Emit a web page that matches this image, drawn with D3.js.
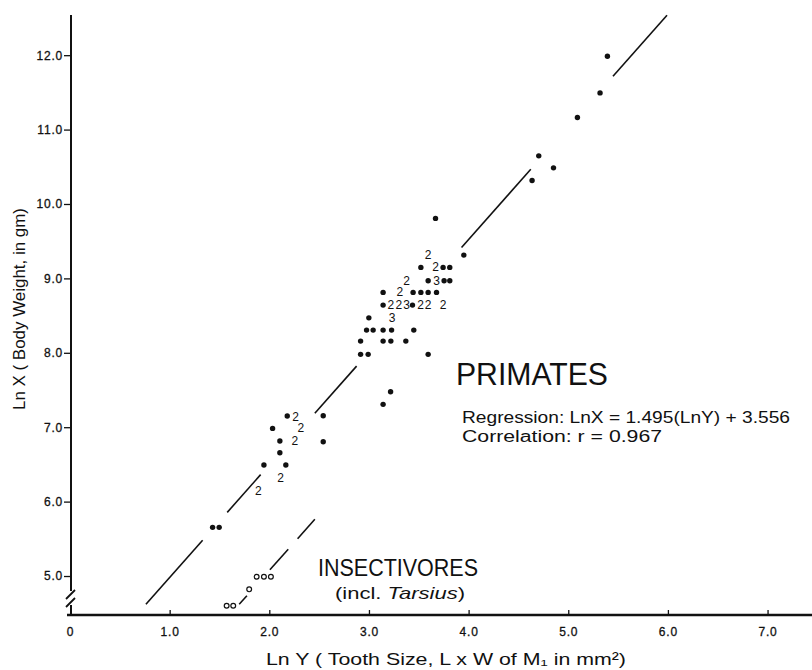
<!DOCTYPE html>
<html><head><meta charset="utf-8">
<script src="https://cdn.jsdelivr.net/npm/d3@7"></script>
<style>
body{margin:0;background:#fff}
svg{display:block}
text{font-family:"Liberation Sans",Arial,Helvetica,sans-serif;fill:#111}
</style>
</head><body>
<svg id="chart" width="812" height="670"></svg>
<script>
// ---- data (Ln Y = tooth size, Ln X = body weight) ----
const primateDots = [
  [1.431,5.654],[1.497,5.654],[1.946,6.491],[2.166,6.491],[2.106,6.657],[2.106,6.814],
  [2.033,6.984],[2.180,7.150],[2.541,7.154],[2.541,6.804],[3.142,7.307],[3.217,7.476],
  [3.952,9.313],[3.521,9.148],[3.744,9.148],[3.811,9.148],
  [3.594,8.968],[3.754,8.968],[3.811,8.968],
  [3.142,8.812],[3.443,8.812],[3.521,8.812],[3.594,8.812],[3.678,8.812],
  [3.142,8.641],[3.437,8.641],[2.999,8.470],
  [2.976,8.305],[3.042,8.305],[3.142,8.305],[3.227,8.305],[3.450,8.305],
  [2.916,8.157],[3.142,8.157],[3.220,8.157],[3.370,8.157],
  [2.916,7.979],[2.992,7.979],[3.594,7.979],[3.668,9.806],
  [4.637,10.316],[4.704,10.647],[4.852,10.486],[5.092,11.163],[5.319,11.493],[5.393,11.986]
];
// multiple specimens at one point, shown by a numeral: [count, lnY, lnX]
const primateCounts = [
  ["2",1.889,6.146],["2",2.113,6.321],["2",2.257,6.814],["2",2.317,6.984],["2",2.264,7.132],
  ["2",3.594,9.313],["2",3.668,9.148],["2",3.377,8.968],["3",3.678,8.968],["2",3.310,8.812],
  ["2",3.220,8.641],["2",3.300,8.641],["3",3.377,8.641],["2",3.518,8.641],["2",3.594,8.641],
  ["2",3.744,8.641],["3",3.233,8.470]
];
const insectivoreDots = [
  [1.572,4.601],[1.638,4.601],[1.798,4.821],[1.873,4.991],[1.946,4.991],[2.016,4.991]
];
// fitted lines (end points) and their visible dash pieces (Ln Y ranges)
const primateLineEnds = [[0.762,4.620],[5.991,12.537]];
const primateLinePieces = [[0.762,1.331],[1.578,1.913],[2.457,2.876],[3.929,4.624],[5.449,5.991]];
const insectLineEnds = [[1.698,4.620],[2.457,5.762]];
const insectLinePieces = [[1.698,1.775],[2.006,2.190],[2.284,2.457]];

const xTickValues = [0,1,2,3,4,5,6,7];
const xTickLabels = ["0","1.0","2.0","3.0","4.0","5.0","6.0","7.0"];
const yTickValues = [5,6,7,8,9,10,11,12];
const yTickLabels = ["5.0","6.0","7.0","8.0","9.0","10.0","11.0","12.0"];

// ---- drawing ----
const svg = d3.select("#chart");
const x = d3.scaleLinear().domain([0,7.446]).range([70,812]);
const y = d3.scaleLinear().domain([4.476,12.54]).range([615,15]);

// x axis
const xAxis = d3.axisBottom(x).tickValues(xTickValues)
  .tickFormat((d,i)=>xTickLabels[i]).tickSizeInner(-5).tickSizeOuter(0).tickPadding(12);
const gx = svg.append("g").attr("transform",`translate(0,${y(4.476)})`).call(xAxis);
gx.select(".domain").remove();
gx.selectAll(".tick line").attr("stroke","#111").attr("stroke-width",1.3);
gx.selectAll(".tick").filter(d=>d===0).select("line").remove();
gx.selectAll("text").attr("font-size",12).attr("letter-spacing",0.8)
  .style("font-family","'Liberation Sans',Arial,sans-serif").attr("fill","#111")
  .attr("stroke","#111").attr("stroke-width",0.3);
svg.append("line").attr("x1",x(0)-3).attr("x2",812).attr("y1",y(4.476)).attr("y2",y(4.476))
  .attr("stroke","#111").attr("stroke-width",2.4);

// y axis
const yAxis = d3.axisLeft(y).tickValues(yTickValues)
  .tickFormat((d,i)=>yTickLabels[i]).tickSizeInner(7).tickSizeOuter(0).tickPadding(1);
const gy = svg.append("g").attr("transform",`translate(${x(0)+1},0)`).call(yAxis);
gy.select(".domain").remove();
gy.selectAll(".tick line").attr("stroke","#111").attr("stroke-width",1.3);
gy.selectAll("text").attr("font-size",12).attr("letter-spacing",0.8)
  .style("font-family","'Liberation Sans',Arial,sans-serif").attr("fill","#111")
  .attr("stroke","#111").attr("stroke-width",0.3);
const ax = x(0)+1;
svg.append("line").attr("x1",ax).attr("x2",ax).attr("y1",y(12.54)).attr("y2",y(4.476)-24)
  .attr("stroke","#111").attr("stroke-width",2);
svg.append("line").attr("x1",ax-5).attr("x2",ax+4).attr("y1",y(4.476)-16).attr("y2",y(4.476)-25)
  .attr("stroke","#111").attr("stroke-width",1.8);
svg.append("line").attr("x1",ax-5).attr("x2",ax+4).attr("y1",y(4.476)-8).attr("y2",y(4.476)-17)
  .attr("stroke","#111").attr("stroke-width",1.8);
svg.append("line").attr("x1",ax).attr("x2",ax).attr("y1",y(4.476)-10).attr("y2",y(4.476))
  .attr("stroke","#111").attr("stroke-width",2);

// regression lines (dashed pieces)
function drawPieces(ends, pieces){
  const lin = d3.scaleLinear().domain([ends[0][0],ends[1][0]]).range([ends[0][1],ends[1][1]]);
  svg.append("g").selectAll("line").data(pieces).join("line")
    .attr("x1",d=>x(d[0])).attr("y1",d=>y(lin(d[0])))
    .attr("x2",d=>x(d[1])).attr("y2",d=>y(lin(d[1])))
    .attr("stroke","#111").attr("stroke-width",1.6);
}
drawPieces(primateLineEnds, primateLinePieces);
drawPieces(insectLineEnds, insectLinePieces);

// points
svg.append("g").selectAll("circle").data(primateDots).join("circle")
  .attr("cx",d=>x(d[0])).attr("cy",d=>y(d[1])).attr("r",2.7).attr("fill","#111");
svg.append("g").selectAll("circle").data(insectivoreDots).join("circle")
  .attr("cx",d=>x(d[0])).attr("cy",d=>y(d[1])).attr("r",2.4)
  .attr("fill","none").attr("stroke","#111").attr("stroke-width",1.2);
svg.append("g").selectAll("text").data(primateCounts).join("text")
  .attr("x",d=>x(d[1])).attr("y",d=>y(d[2])+4).attr("text-anchor","middle")
  .attr("font-size",12).text(d=>d[0]);

// annotations
svg.append("text").attr("x",456).attr("y",385).attr("font-size",31)
  .attr("textLength",152).attr("lengthAdjust","spacingAndGlyphs").text("PRIMATES");
svg.append("text").attr("x",462).attr("y",423).attr("font-size",16)
  .attr("textLength",328).attr("lengthAdjust","spacingAndGlyphs")
  .text("Regression: LnX = 1.495(LnY) + 3.556");
svg.append("text").attr("x",462).attr("y",442).attr("font-size",16)
  .attr("textLength",200).attr("lengthAdjust","spacingAndGlyphs")
  .text("Correlation: r = 0.967");
svg.append("text").attr("x",318).attr("y",576).attr("font-size",23)
  .attr("textLength",160).attr("lengthAdjust","spacingAndGlyphs").text("INSECTIVORES");
const incl = svg.append("text").attr("x",335).attr("y",599).attr("font-size",17)
  .attr("textLength",130).attr("lengthAdjust","spacingAndGlyphs");
incl.append("tspan").text("(incl. ");
incl.append("tspan").attr("font-style","italic").text("Tarsius");
incl.append("tspan").text(")");

// axis titles
svg.append("text").attr("x",446).attr("y",665).attr("text-anchor","middle").attr("font-size",17)
  .attr("textLength",360).attr("lengthAdjust","spacingAndGlyphs")
  .text("Ln Y ( Tooth Size, L x W of M\u2081 in mm\u00B2)");
svg.append("text").attr("transform","translate(25,309) rotate(-90)").attr("text-anchor","middle")
  .attr("font-size",16).attr("textLength",202).attr("lengthAdjust","spacingAndGlyphs")
  .text("Ln X ( Body Weight, in gm)");
</script>
</body></html>
